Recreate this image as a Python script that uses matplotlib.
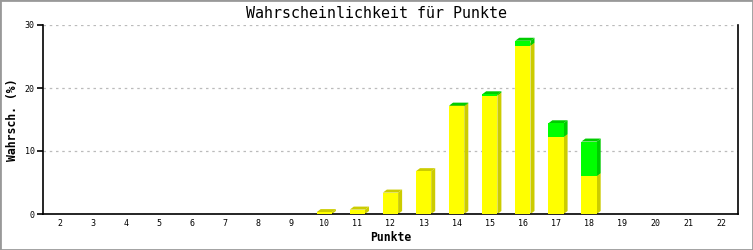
import matplotlib
matplotlib.use("Agg")
import matplotlib.pyplot as plt
from matplotlib.patches import Rectangle, Polygon

# data
punkte = list(range(2, 23))
gelb = [0, 0, 0, 0, 0, 0, 0, 0, 0.3, 0.7, 3.4, 6.8, 17.1, 18.8, 26.7, 12.2, 6.0, 0, 0, 0, 0]
gruen = [0, 0, 0, 0, 0, 0, 0, 0, 0, 0, 0, 0, 0.1, 0.2, 0.8, 2.2, 5.5, 0, 0, 0, 0]
yticks = [0, 10, 20, 30]

fig = plt.figure(figsize=(7.53, 2.5), dpi=100)
ax = fig.add_axes([43 / 753, 36 / 250, 695 / 753, 189 / 250])

mono = "DejaVu Sans Mono"
w = 0.46
ax.set_xlim(1.5, 22.5)
ax.set_ylim(0, 30)

# depth of the fake 3d bars: 4 px right and 3 px up, in data units
dx = 4 * (22.5 - 1.5) / 695
dy = 3 * 30 / 189


def depth(x, bottom, top, side, cap):
    r = x + w / 2
    ax.add_patch(Polygon([(r, bottom), (r + dx, bottom + dy), (r + dx, top + dy), (r, top)],
                         closed=True, facecolor=side, edgecolor="none", zorder=2))
    ax.add_patch(Polygon([(x - w / 2, top), (x - w / 2 + dx, top + dy), (r + dx, top + dy), (r, top)],
                         closed=True, facecolor=cap, edgecolor="none", zorder=2))


for x, g, gr in zip(punkte, gelb, gruen):
    if g + gr <= 0:
        continue
    depth(x, 0, g, "#cccc00", "#cccc00")
    if gr > 0:
        depth(x, g, g + gr, "#00cc00", "#00cc00")

# front faces
ax.bar(punkte, gelb, w, color="#ffff00", zorder=3, linewidth=0)
ax.bar(punkte, gruen, w, bottom=gelb, color="#00ff00", zorder=3, linewidth=0)

ax.set_xticks(punkte)
ax.set_xticklabels([str(p) for p in punkte], fontsize=6, family=mono)
ax.set_yticks(yticks)
ax.set_yticklabels([str(t) for t in yticks], fontsize=6, family=mono)
ax.tick_params(axis="x", length=0, pad=3.5)
ax.tick_params(axis="y", length=4, width=1.2, pad=2)

# grid
ax.yaxis.grid(True, color="#bbbbbb", linestyle=(0, (2, 3)), linewidth=0.9)
ax.set_axisbelow(True)

for s in ["left", "bottom", "right"]:
    ax.spines[s].set_linewidth(1.2)
ax.spines["top"].set_visible(False)

fig.text(0.5, 1 - 13 / 250, "Wahrscheinlichkeit für Punkte", fontsize=10.8, family=mono,
         ha="center", va="center")
ax.set_xlabel("Punkte", fontsize=8.3, family=mono, fontweight="bold", labelpad=2)
ax.set_ylabel("Wahrsch. (%)", fontsize=8.3, family=mono, fontweight="bold", labelpad=4)

# grey frame round the picture
fig.patches.append(Rectangle((0, 0), 1, 1, transform=fig.transFigure, fill=False,
                             edgecolor="#999999", linewidth=2))

fig.savefig("out.png", dpi=100)
